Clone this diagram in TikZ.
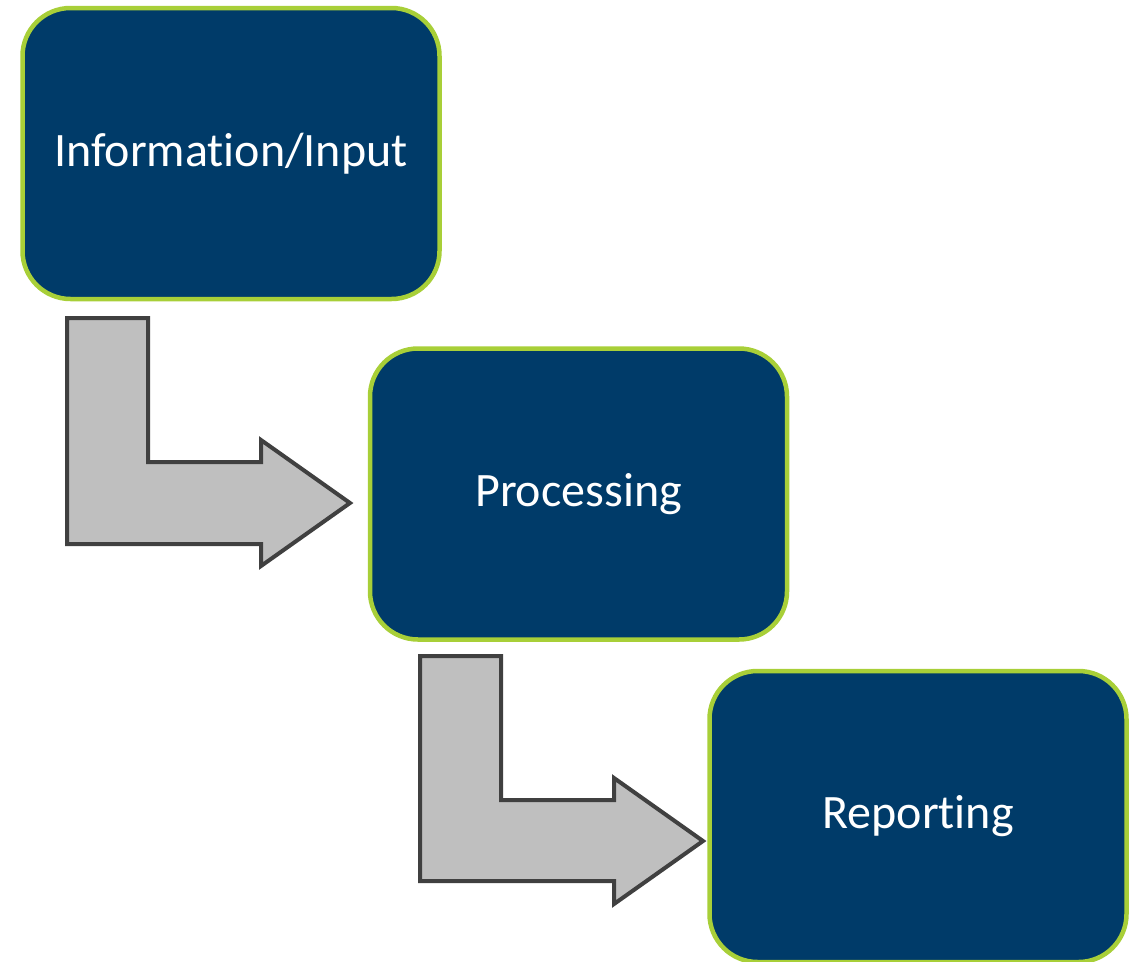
\documentclass[tikz,border=0pt]{standalone}
\usepackage{fontspec}
\setmainfont[Ligatures={NoCommon}]{Carlito}
\definecolor{boxblue}{HTML}{003B69}
\definecolor{boxgreen}{HTML}{A8CF38}
\definecolor{arrowfill}{HTML}{BFBFBF}
\definecolor{arrowline}{HTML}{404040}
\begin{document}
\begin{tikzpicture}[x=1pt,y=-1pt,
  stagebox/.style={draw=boxgreen, fill=boxblue, line width=4.5pt, rounded corners=48pt,
    minimum width=417pt, minimum height=291pt, inner sep=0pt, text=white,
    font=\fontsize{48pt}{56pt}\selectfont},
  bentarrow/.style={draw=arrowline, fill=arrowfill, line width=4pt, line join=miter}]
\useasboundingbox (0,0) rectangle (1142,961);
\node[stagebox] (info) at (231,153.5) {Information/Input};
\node[stagebox] (proc) at (578.5,494) {Processing};
\node[stagebox] (rep) at (918,816.5) {Reporting};
\draw[bentarrow] (67,318) -- (148,318) -- (148,462) -- (261,462) -- (261,440) -- (350,503)
  -- (261,566) -- (261,544) -- (67,544) -- cycle;
\draw[bentarrow] (420,656) -- (501,656) -- (501,800) -- (614,800) -- (614,778) -- (703,841)
  -- (614,904) -- (614,881) -- (420,881) -- cycle;
\end{tikzpicture}
\end{document}
